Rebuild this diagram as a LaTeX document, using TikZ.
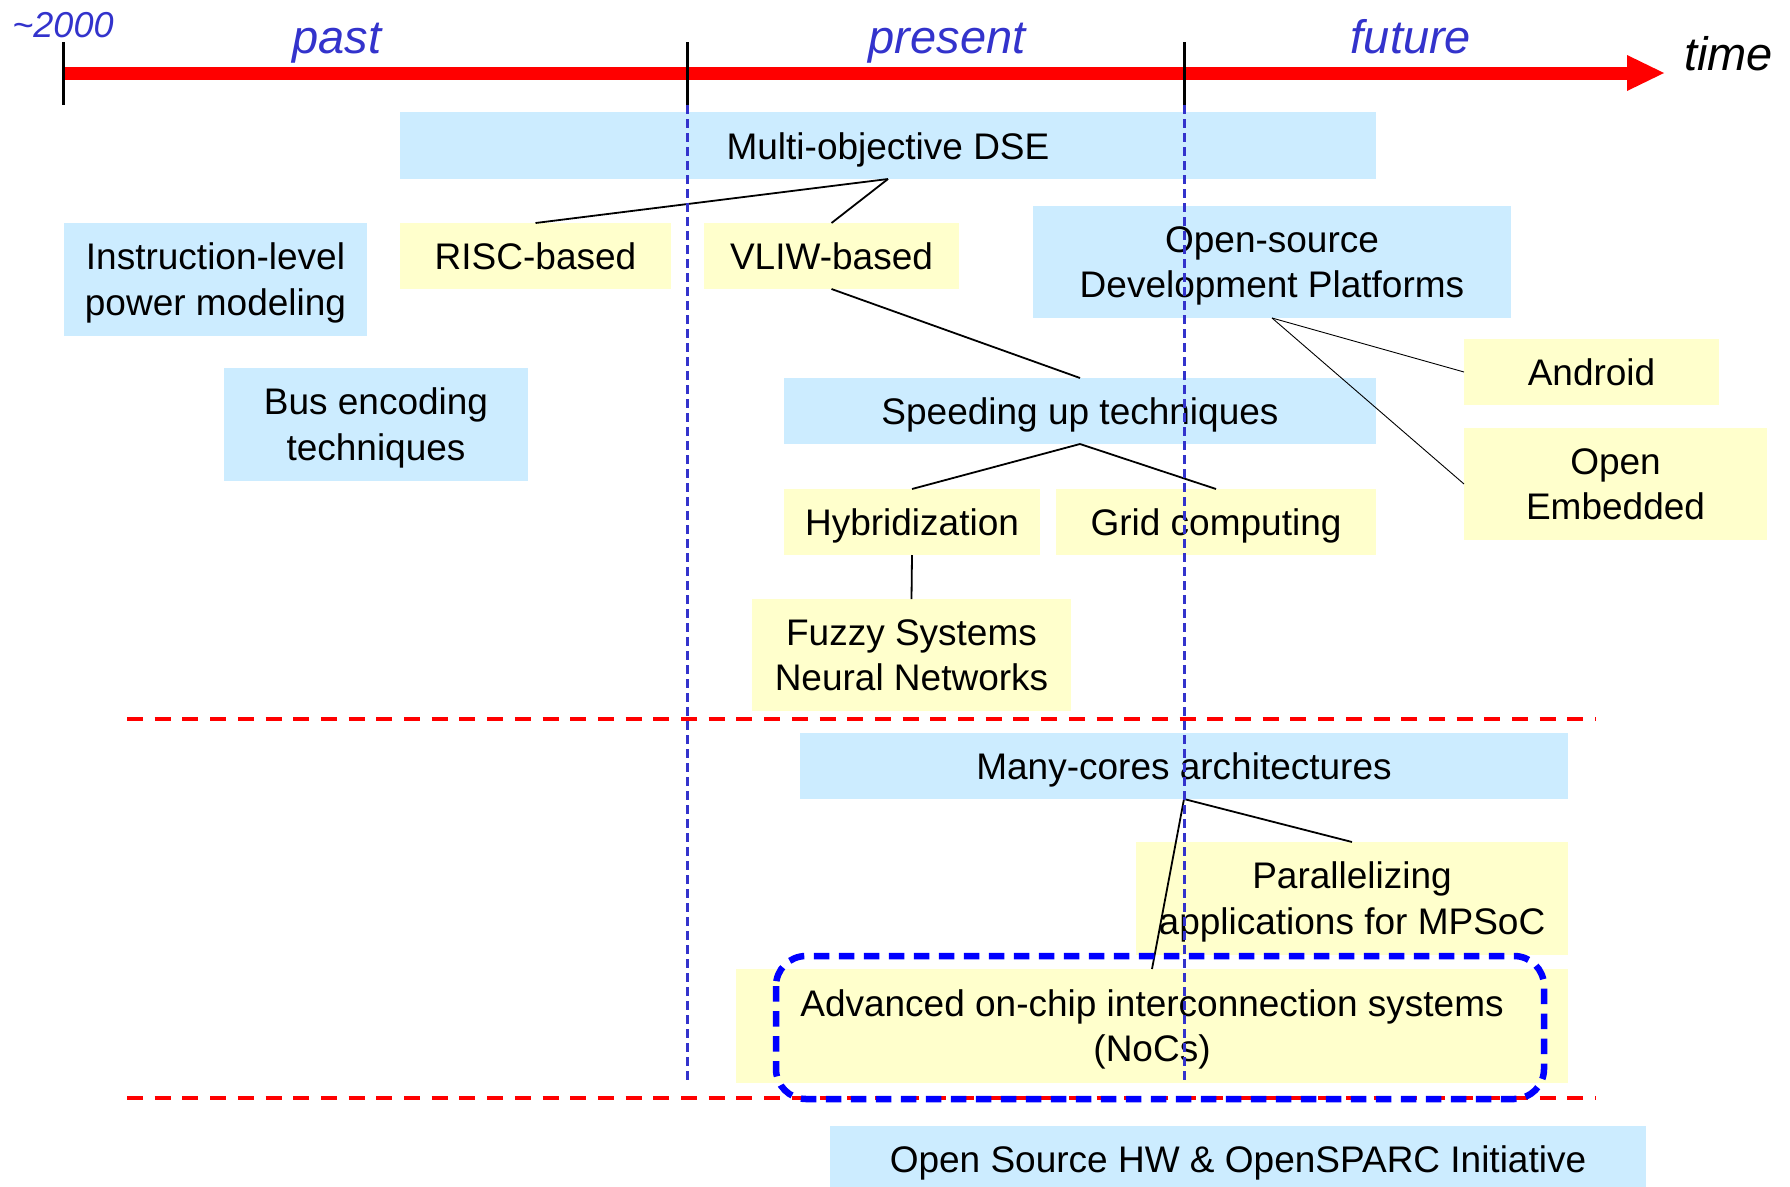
\documentclass[tikz,border=0pt]{standalone}
\usepackage{fontspec}
\setmainfont{Liberation Sans}
\definecolor{boxblue}{HTML}{CCECFF}
\definecolor{boxyellow}{HTML}{FFFFCC}
\definecolor{labelblue}{HTML}{3333CC}
\newcommand\diagfont{\fontsize{37}{45.5}\selectfont}
\newcommand\periodfont{\fontsize{47}{56}\selectfont\itshape}
\newcommand\boxstrut{\rule[-9pt]{0pt}{45pt}}
\newcommand\twolines[2]{\boxstrut #1\\#2\boxstrut}
\tikzset{
  box/.style={inner sep=0pt, outer sep=0pt, align=center, font=\diagfont, text=black,
    execute at begin node=\boxstrut, execute at end node=\boxstrut},
  bluebox/.style={box, fill=boxblue},
  yellowbox/.style={box, fill=boxyellow},
  twolinetext/.style={inner sep=0pt, align=center, font=\diagfont, text=black, yshift=0.7pt},
  link/.style={line width=1.8pt, black},
  thinlink/.style={line width=0.9pt, black},
  period/.style={font=\periodfont, text=labelblue, inner sep=0pt, anchor=base},
  tick/.style={line width=3pt, black},
  eradash/.style={line width=3pt, labelblue, dash pattern=on 9pt off 5pt},
  sepline/.style={line width=4.3pt, red, dash pattern=on 16pt off 11.7pt},
  highlight/.style={line width=6.5pt, blue, dash pattern=on 15.5pt off 9.5pt, rounded corners=30pt}
}
\begin{document}
\begin{tikzpicture}[x=1pt,y=-1pt]
\useasboundingbox (0,0) rectangle (1790,1186);
% timeline
\fill[red] (63,66.5) rectangle (1630,79.5);
\fill[red] (1627,55) -- (1664,73) -- (1627,91) -- cycle;
\coordinate (t0a) at (63,42);   \coordinate (t0b) at (63,105);
\coordinate (t1a) at (687,42);  \coordinate (t1b) at (687,105);
\coordinate (t2a) at (1184,42); \coordinate (t2b) at (1184,105);
\draw[tick] (t0a) -- (t0b);
\draw[tick] (t1a) -- (t1b);
\draw[tick] (t2a) -- (t2b);
\node[period, font=\fontsize{36}{40}\selectfont\itshape] (y2000) at (63,37) {\textasciitilde 2000};
\node[period] (past) at (337,53) {past};
\node[period] (present) at (947,53) {present};
\node[period] (future) at (1411,53) {future};
\node[period, text=black, anchor=base west] (time) at (1684,70) {time};

% boxes
\node[bluebox, minimum width=976pt, minimum height=67pt] (mo) at (888,145.5) {Multi-objective DSE};
\node[yellowbox, minimum width=271pt, minimum height=66pt] (risc) at (535.5,256) {RISC-based};
\node[yellowbox, minimum width=255pt, minimum height=66pt] (vliw) at (831.5,256) {VLIW-based};
\node[bluebox, minimum width=303pt, minimum height=113pt] (ilp) at (215.5,279.5) {};
\node[twolinetext] (ilpt) at (ilp.center) {\twolines{Instruction-level}{power modeling}};
\node[bluebox, minimum width=304pt, minimum height=113pt] (bus) at (376,424.5) {};
\node[twolinetext] (bust) at (bus.center) {\twolines{Bus encoding}{techniques}};
\node[bluebox, minimum width=478pt, minimum height=112pt] (osdp) at (1272,262) {};
\node[twolinetext] (osdpt) at (osdp.center) {\twolines{Open-source}{Development Platforms}};
\node[yellowbox, minimum width=255pt, minimum height=66pt] (android) at (1591.5,372) {Android};
\node[yellowbox, minimum width=303pt, minimum height=112pt] (oe) at (1615.5,484) {};
\node[twolinetext] (oet) at (oe.center) {\twolines{Open}{Embedded}};
\node[bluebox, minimum width=592pt, minimum height=66pt] (speed) at (1080,411) {Speeding up techniques};
\node[yellowbox, minimum width=256pt, minimum height=66pt] (hyb) at (912,522) {Hybridization};
\node[yellowbox, minimum width=320pt, minimum height=66pt] (grid) at (1216,522) {Grid computing};
\node[yellowbox, minimum width=319pt, minimum height=112pt] (fuzzy) at (911.5,655) {};
\node[twolinetext] (fuzzyt) at (fuzzy.center) {\twolines{Fuzzy Systems}{Neural Networks}};
\node[bluebox, minimum width=768pt, minimum height=66pt] (many) at (1184,766) {Many-cores architectures};
\node[yellowbox, minimum width=432pt, minimum height=113pt] (par) at (1352,898.5) {};
\node[twolinetext] (part) at (par.center) {\twolines{Parallelizing}{applications for MPSoC}};
\node[yellowbox, minimum width=832pt, minimum height=114pt] (noc) at (1152,1026) {};
\node[twolinetext] (noct) at (noc.center) {\twolines{Advanced on-chip interconnection systems}{(NoCs)}};
\node[bluebox, minimum width=816pt, minimum height=66pt] (oshw) at (1238,1159) {Open Source HW \& OpenSPARC Initiative};

% connectors
\draw[link] (mo.south) -- (risc.north);
\draw[link] (mo.south) -- (vliw.north);
\draw[link] (vliw.south) -- (speed.north);
\draw[link] (speed.south) -- (hyb.north);
\draw[link] (speed.south) -- (grid.north);
\draw[link] (hyb.south) -- (fuzzy.north);
\draw[link] (many.south) -- (par.north);
\draw[link] (many.south) -- (noc.north);
\draw[thinlink] (osdp.south) -- (android.west);
\draw[thinlink] (osdp.south) -- (oe.west);

% era separators
\coordinate (e1a) at (687,105);  \coordinate (e1b) at (687,1080);
\coordinate (e2a) at (1184,105); \coordinate (e2b) at (1184,1080);
\draw[eradash] (e1a) -- (e1b);
\draw[eradash] (e2a) -- (e2b);

% horizontal separators
\coordinate (s1a) at (127,719);  \coordinate (s1b) at (1596,719);
\coordinate (s2a) at (127,1098); \coordinate (s2b) at (1596,1098);
\draw[sepline] (s1a) -- (s1b);
\draw[sepline] (s2a) -- (s2b);

% highlight
\coordinate (h1) at (776,956); \coordinate (h2) at (1544,1099);
\draw[highlight] (h1) rectangle (h2);
\end{tikzpicture}
\end{document}
